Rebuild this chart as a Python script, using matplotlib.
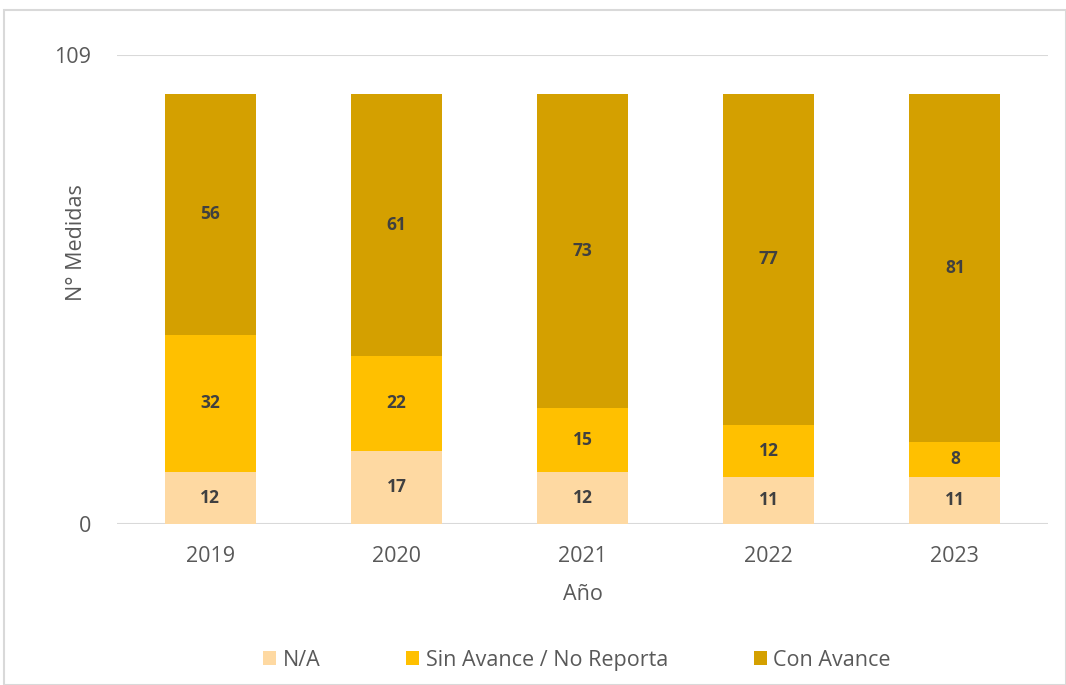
import matplotlib.pyplot as plt
from matplotlib.patches import Rectangle
import numpy as np

plt.rcParams['font.family'] = ['Open Sans', 'DejaVu Sans']

years = ['2019', '2020', '2021', '2022', '2023']
na = [12, 17, 12, 11, 11]
sin_avance = [32, 22, 15, 12, 8]
con_avance = [56, 61, 73, 77, 81]

series = [('N/A', na, '#FED9A2'),
          ('Sin Avance / No Reporta', sin_avance, '#FFC000'),
          ('Con Avance', con_avance, '#D4A000')]

fig = plt.figure(figsize=(10.66, 6.85), dpi=100)
ax = fig.add_axes([0.110, 0.235, 0.873, 0.685])

# light frame around the chart area
fig.patches.append(Rectangle((0.004, 0.0), 0.996, 0.986, transform=fig.transFigure,
                             fill=False, edgecolor='#D9D9D9', linewidth=1.5))

x = np.arange(len(years))
bottom = np.zeros(len(years))
for name, vals, col in series:
    bars = ax.bar(x, vals, 0.49, bottom=bottom, color=col, label=name, zorder=3)
    for b, v, b0 in zip(bars, vals, bottom):
        ax.text(b.get_x() + b.get_width() / 2, b0 + v / 2, str(v),
                ha='center', va='center', fontsize=12.5, fontweight='bold',
                color='#404040', zorder=4)
    bottom = bottom + np.array(vals)

ax.set_xlim(-0.5, len(years) - 0.5)
ax.set_ylim(0, 109)
ax.set_yticks([0, 109])
ax.set_xticks(x)
ax.set_xticklabels(years)
ax.tick_params(length=0, labelsize=15.5, labelcolor='#595959')
ax.tick_params(axis='y', pad=19)
ax.tick_params(axis='x', pad=16)
for s in ax.spines.values():
    s.set_visible(False)
ax.grid(axis='y', color='#D9D9D9', linewidth=1.5, zorder=0)

ax.set_xlabel('Año', fontsize=15.5, color='#595959', labelpad=12)
ax.set_ylabel('N° Medidas', fontsize=15.5, color='#595959')
ax.yaxis.set_label_coords(-0.032, 0.60)

ax.legend(loc='center', bbox_to_anchor=(0.494, -0.29), ncol=3, frameon=False,
          fontsize=15.5, labelcolor='#595959', handlelength=0.6, handleheight=0.6,
          handletextpad=0.3, columnspacing=4.0)

fig.savefig('out.png', dpi=100)
